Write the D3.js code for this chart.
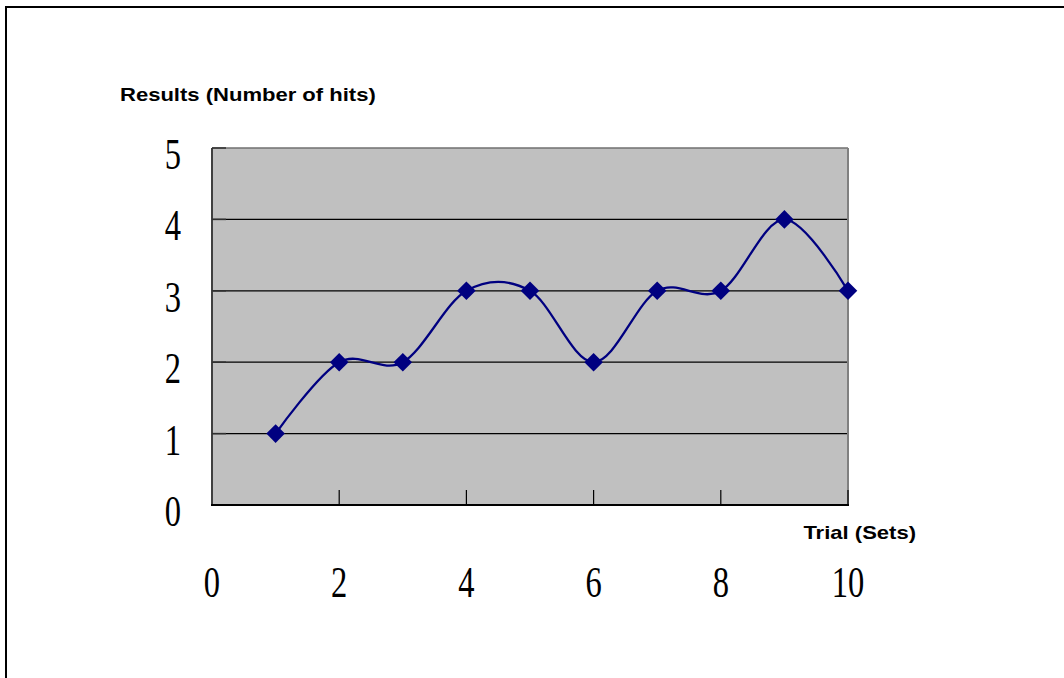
<!DOCTYPE html>
<html lang="en">
<head>
<meta charset="UTF-8">
<title>Results (Number of hits)</title>
<style>
body { margin: 0; background: #fff; }
svg { display: block; }
.grid line { stroke: #000; stroke-width: 1.2px; }
.lbl { font-family: "Liberation Sans", Arial, sans-serif; font-weight: bold; font-size: 19px; fill: #000; }
.tick-num { font-family: "Liberation Serif", "Times New Roman", serif; font-size: 44px; fill: #000; }
</style>
</head>
<body>
<script src="https://cdnjs.cloudflare.com/ajax/libs/d3/7.8.5/d3.min.js"></script>
<script>
// data
var trials = [1, 2, 3, 4, 5, 6, 7, 8, 9, 10];
var hits = [1, 2, 2, 3, 3, 2, 3, 3, 4, 3];
var xTicks = [0, 2, 4, 6, 8, 10];
var yTicks = [0, 1, 2, 3, 4, 5];

var W = 1064, H = 678;
var plot = { left: 212, right: 848, top: 148, bottom: 505 };

var svg = d3.select("body").append("svg")
  .attr("width", W)
  .attr("height", H);

// outer frame (top and left only)
svg.append("line").attr("x1", 6).attr("x2", W).attr("y1", 7).attr("y2", 7)
  .attr("stroke", "#000").attr("stroke-width", 2);
svg.append("line").attr("x1", 6).attr("x2", 6).attr("y1", 6).attr("y2", H)
  .attr("stroke", "#000").attr("stroke-width", 2);

var x = d3.scaleLinear().domain([0, 10]).range([plot.left, plot.right]);
var y = d3.scaleLinear().domain([0, 5]).range([plot.bottom, plot.top]);

// gray plot area
svg.append("rect")
  .attr("x", plot.left).attr("y", plot.top)
  .attr("width", plot.right - plot.left).attr("height", plot.bottom - plot.top)
  .attr("fill", "#c0c0c0");

// horizontal gridlines
svg.append("g").attr("class", "grid")
  .selectAll("line")
  .data(yTicks.filter(function (d) { return d > 0 && d < 5; }))
  .join("line")
  .attr("x1", plot.left).attr("x2", plot.right)
  .attr("y1", function (d) { return y(d); })
  .attr("y2", function (d) { return y(d); });

// plot border: top and right lighter, left darker
svg.append("line").attr("x1", plot.left).attr("x2", plot.right)
  .attr("y1", plot.top).attr("y2", plot.top)
  .attr("stroke", "#707070").attr("stroke-width", 1.5);
svg.append("line").attr("x1", plot.right).attr("x2", plot.right)
  .attr("y1", plot.top).attr("y2", plot.bottom)
  .attr("stroke", "#808080").attr("stroke-width", 2);
svg.append("line").attr("x1", plot.left).attr("x2", plot.left)
  .attr("y1", plot.top).attr("y2", plot.bottom)
  .attr("stroke", "#404040").attr("stroke-width", 2);

// y ticks (short stubs inside)
svg.append("g").selectAll("line")
  .data(yTicks)
  .join("line")
  .attr("x1", plot.left).attr("x2", plot.left + 14)
  .attr("y1", function (d) { return y(d); })
  .attr("y2", function (d) { return y(d); })
  .attr("stroke", "#303030").attr("stroke-width", 1.5);

// x axis line and ticks
svg.append("line").attr("x1", plot.left - 1).attr("x2", plot.right + 1)
  .attr("y1", plot.bottom).attr("y2", plot.bottom)
  .attr("stroke", "#000").attr("stroke-width", 2);
svg.append("g").selectAll("line")
  .data(xTicks.filter(function (d) { return d > 0; }))
  .join("line")
  .attr("x1", function (d) { return x(d); })
  .attr("x2", function (d) { return x(d); })
  .attr("y1", plot.bottom).attr("y2", plot.bottom - 15)
  .attr("stroke", "#000").attr("stroke-width", 1.2);

// y tick labels
svg.append("g").selectAll("text")
  .data(yTicks)
  .join("text")
  .attr("class", "tick-num")
  .attr("text-anchor", "middle")
  .attr("transform", function (d) {
    return "translate(173," + (y(d) + 21) + ") scale(0.74,1)";
  })
  .text(function (d) { return d; });

// x tick labels
svg.append("g").selectAll("text")
  .data(xTicks)
  .join("text")
  .attr("class", "tick-num")
  .attr("text-anchor", "middle")
  .attr("transform", function (d) {
    return "translate(" + x(d) + ",597) scale(0.74,1)";
  })
  .text(function (d) { return d; });

// axis titles (wide bold sans, stretched a little)
svg.append("text").attr("class", "lbl")
  .attr("transform", "translate(120,101) scale(1.16,1)")
  .text("Results (Number of hits)");
svg.append("text").attr("class", "lbl")
  .attr("transform", "translate(916,539) scale(1.16,1)")
  .attr("text-anchor", "end")
  .text("Trial (Sets)");

// smoothed series line
var line = d3.line()
  .x(function (d, i) { return x(trials[i]); })
  .y(function (d) { return y(d); })
  .curve(d3.curveCatmullRom.alpha(0));

svg.append("path")
  .datum(hits)
  .attr("fill", "none")
  .attr("stroke", "#000080")
  .attr("stroke-width", 2.3)
  .attr("d", line);

// diamond markers
var diamond = d3.symbol().type(d3.symbolDiamond2).size(220);
svg.append("g").selectAll("path")
  .data(hits)
  .join("path")
  .attr("transform", function (d, i) {
    return "translate(" + x(trials[i]) + "," + y(d) + ")";
  })
  .attr("d", diamond)
  .attr("fill", "#000080");
</script>
</body>
</html>
